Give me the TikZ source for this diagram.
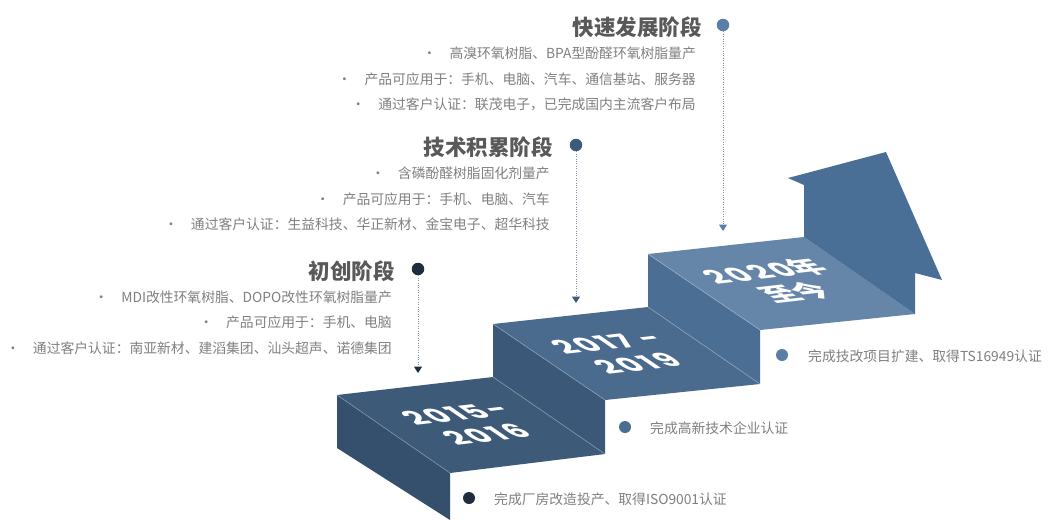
\documentclass[tikz,border=0pt]{standalone}
\usepackage{fontspec}
\setmainfont{Noto Sans CJK SC}
\newfontfamily\yearfont{Poppins}[LetterSpace=9]
\usetikzlibrary{arrows.meta}
\definecolor{topA}{HTML}{3E5A79}
\definecolor{sideA}{HTML}{34506D}
\definecolor{riserB}{HTML}{3B5878}
\definecolor{topB}{HTML}{4B6B8E}
\definecolor{riserC}{HTML}{4A6E94}
\definecolor{topC}{HTML}{6585A9}
\definecolor{arrowC}{HTML}{4A6F96}
\definecolor{titlegray}{HTML}{595959}
\definecolor{bodygray}{HTML}{808080}
\definecolor{dotA}{HTML}{5A7FA7}
\definecolor{dotB}{HTML}{3C5A7C}
\definecolor{dotC}{HTML}{1F2D3E}
\definecolor{dotM}{HTML}{4A6D93}
\definecolor{dotline}{HTML}{8193AA}
\begin{document}
\begin{tikzpicture}[x=1pt,y=-1pt,
  title/.style={anchor=east,inner sep=0pt,font=\bfseries\fontsize{21.5}{24}\selectfont,text=titlegray},
  item/.style={anchor=east,inner sep=0pt,font=\fontsize{13.8}{16}\selectfont,text=bodygray},
  note/.style={anchor=west,inner sep=0pt,font=\fontsize{13.8}{16}\selectfont,text=bodygray},
  bigdot/.style={circle,inner sep=0pt,minimum size=12.5pt,fill=#1},
  smalldot/.style={circle,inner sep=0pt,minimum size=12pt,fill=#1},
  link/.style={dotline,line width=1pt,dash pattern=on 1pt off 1.4pt,
    -{Triangle[width=8pt,length=6.5pt,color=#1]}},
  edge/.style={white,opacity=0.25,line width=0.8pt},
  yr/.style={inner sep=0pt,align=center,text=white,
    font=\yearfont\bfseries\fontsize{31}{37}\selectfont,
    transform shape,cm={0.9935,0.1146,-0.824,0.567,(0,0)}}
]
\useasboundingbox[fill=white] (0,0) rectangle (1048,520);

% ---- staircase ----
\fill[sideA] (337,395) -- (450,473) -- (450,520) -- (337,448) -- cycle;
\fill[topA] (337,395) -- (493,377) -- (605,454) -- (450,473) -- cycle;
\fill[riserB] (493,324) -- (605,400) -- (605,454) -- (493,377) -- cycle;
\fill[topB] (493,324) -- (648,307) -- (760,384) -- (605,400) -- cycle;
\fill[riserC] (648,254) -- (760,330) -- (760,384) -- (648,307) -- cycle;
\fill[topC] (648,254) -- (804,237) -- (915,314) -- (760,330) -- cycle;
\fill[arrowC] (804,237) -- (804,185) -- (788,178) -- (886,152) -- (942,280)
  -- (915,273) -- (915,314) -- cycle;
\draw[edge] (337,395) -- (450,473);
\draw[edge] (493,324) -- (605,400);
\draw[edge] (648,254) -- (760,330);
\draw[edge] (493,377) -- (605,454);
\draw[edge] (648,307) -- (760,384);

% ---- year labels ----
\begin{scope}[shift={(471,424)}]
  \node[yr] (y1) {2015-\\2016};
\end{scope}
\begin{scope}[shift={(622,353)}]
  \node[yr] (y2) {2017 -\\2019};
\end{scope}
\begin{scope}[shift={(780,282)}]
  \node[yr] (y3) {2020{\rmfamily 年}\\{\rmfamily 至今}};
\end{scope}

% ---- stage 1: 快速发展阶段 ----
\node[title] (t1) at (702,27) {快速发展阶段};
\node[item] (t1a) at (696,53) {•\hspace{0.95em}高溴环氧树脂、BPA型酚醛环氧树脂量产};
\node[item] (t1b) at (696,79) {•\hspace{0.95em}产品可应用于：手机、电脑、汽车、通信基站、服务器};
\node[item] (t1c) at (696,104) {•\hspace{0.95em}通过客户认证：联茂电子，已完成国内主流客户布局};
\node[bigdot=dotA] (d1) at (723,25) {};
\coordinate (e1) at (723,231);
\draw[link=dotA] (d1.south) -- (e1);

% ---- stage 2: 技术积累阶段 ----
\node[title] (t2) at (553,147) {技术积累阶段};
\node[item] (t2a) at (550,173) {•\hspace{0.95em}含磷酚醛树脂固化剂量产};
\node[item] (t2b) at (550,199) {•\hspace{0.95em}产品可应用于：手机、电脑、汽车};
\node[item] (t2c) at (550,224) {•\hspace{0.95em}通过客户认证：生益科技、华正新材、金宝电子、超华科技};
\node[bigdot=dotB] (d2) at (576,145) {};
\coordinate (e2) at (576,303);
\draw[link=dotB] (d2.south) -- (e2);

% ---- stage 3: 初创阶段 ----
\node[title] (t3) at (395,271) {初创阶段};
\node[item] (t3a) at (392,297) {•\hspace{0.95em}MDI改性环氧树脂、DOPO改性环氧树脂量产};
\node[item] (t3b) at (392,322.5) {•\hspace{0.95em}产品可应用于：手机、电脑};
\node[item] (t3c) at (392,348) {•\hspace{0.95em}通过客户认证：南亚新材、建滔集团、汕头超声、诺德集团};
\node[bigdot=dotC] (d3) at (418,269) {};
\coordinate (e3) at (418,373);
\draw[link=dotC] (d3.south) -- (e3);

% ---- milestones ----
\node[smalldot=dotC] (m1) at (469,498) {};
\node[note] (n1) at (494,499) {完成厂房改造投产、取得ISO9001认证};
\node[smalldot=dotM] (m2) at (625,427) {};
\node[note] (n2) at (650,428) {完成高新技术企业认证};
\node[smalldot=dotA] (m3) at (782,355) {};
\node[note] (n3) at (808,356) {完成技改项目扩建、取得TS16949认证};
\end{tikzpicture}
\end{document}
